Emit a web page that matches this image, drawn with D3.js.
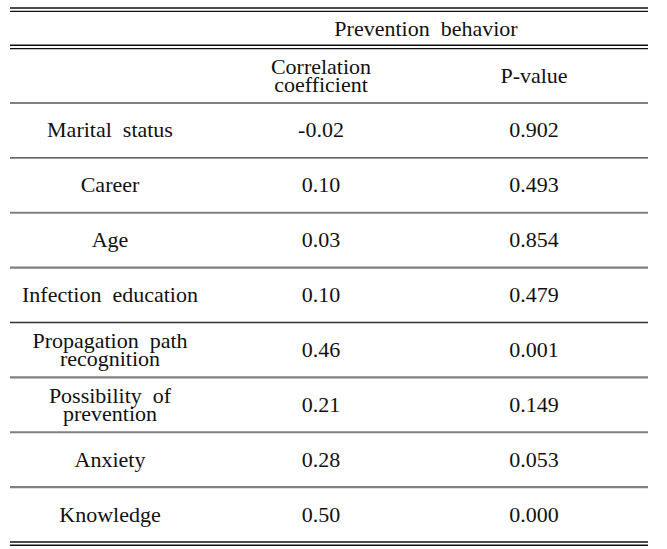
<!DOCTYPE html>
<html>
<head>
<meta charset="utf-8">
<script src="https://cdn.jsdelivr.net/npm/d3@7"></script>
</head>
<body style="margin:0;background:#fff">
<svg id="chart" width="667" height="549"></svg>
<script>
// ---- data ----
const groupHeader = "Prevention\u00a0 behavior";
const columnHeaders = [["Correlation", "coefficient"], ["P-value"]];
const variables = [
  ["Marital\u00a0 status"],
  ["Career"],
  ["Age"],
  ["Infection\u00a0 education"],
  ["Propagation\u00a0 path", "recognition"],
  ["Possibility\u00a0 of", "prevention"],
  ["Anxiety"],
  ["Knowledge"]
];
const coefficients = ["-0.02", "0.10", "0.03", "0.10", "0.46", "0.21", "0.28", "0.50"];
const pValues = ["0.902", "0.493", "0.854", "0.479", "0.001", "0.149", "0.053", "0.000"];

// ---- layout ----
const svg = d3.select("#chart");
const left = 10, right = 648;
const fontSize = 22;

const rowScale = d3.scaleBand()
  .domain(d3.range(variables.length))
  .range([103, 542]);

const colX = d3.scaleOrdinal()
  .domain(["var", "coef", "p"])
  .range([110, 321, 534]);

function multiline(g, lines, x, cy, gap) {
  const n = lines.length;
  lines.forEach((ln, i) => {
    g.append("text")
      .attr("x", x)
      .attr("y", cy + (i - (n - 1) / 2) * gap + fontSize * 0.32)
      .attr("text-anchor", "middle")
      .attr("font-size", fontSize)
      .style("font-family", '"Liberation Serif"')
      .attr("fill", "#111")
      .text(ln);
  });
}

// rules
function hline(y, color, w, x1 = left, x2 = right) {
  svg.append("line")
    .attr("x1", x1).attr("x2", x2)
    .attr("y1", y).attr("y2", y)
    .attr("stroke", color).attr("stroke-width", w);
}
// top double
hline(8, "#111", 1.6);
hline(11.3, "#111", 1.2);
// under group header (double)
hline(45.2, "#111", 1.4);
hline(48.6, "#111", 1.2);
// bottom double
hline(542, "#111", 1.4);
hline(545.3, "#111", 1.4);

// row separators
const rowLines = d3.range(0, variables.length).map(i => rowScale(i));
rowLines.forEach((y, i) => {
  const dark = (i === 1 || i === 4);
  hline(y, dark ? "#333" : "#808080", dark ? 1.3 : 2.2);
});

// header text
const g = svg.append("g");
multiline(g, [groupHeader], 426, 28.5, 0);
multiline(g, columnHeaders[0], colX("coef"), 75.5, 18);
multiline(g, columnHeaders[1], colX("p"), 75.5, 18);

// body
variables.forEach((v, i) => {
  const cy = rowScale(i) + rowScale.bandwidth() / 2;
  multiline(g, v, colX("var"), cy, 18.5);
  multiline(g, [coefficients[i]], colX("coef"), cy, 0);
  multiline(g, [pValues[i]], colX("p"), cy, 0);
});
</script>
</body>
</html>
